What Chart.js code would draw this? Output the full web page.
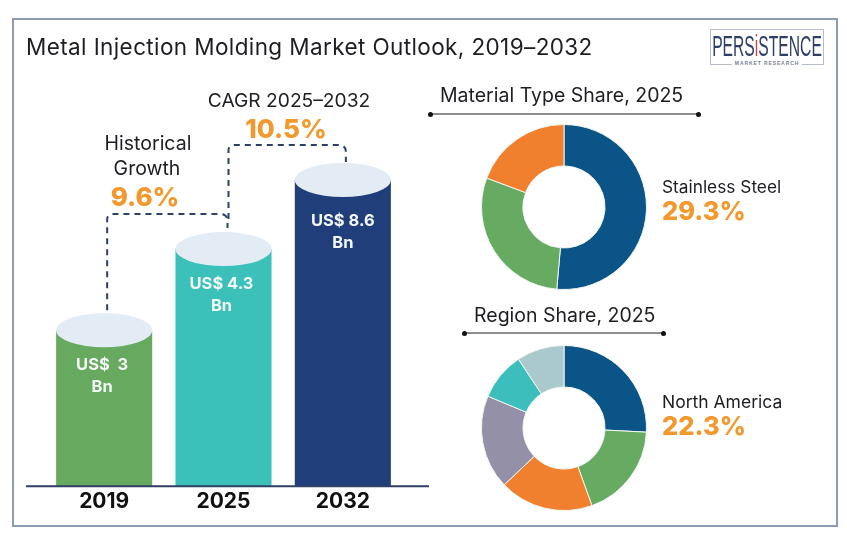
<!DOCTYPE html>
<html>
<head>
<meta charset="utf-8">
<script src="https://cdn.jsdelivr.net/npm/chart.js@4/dist/chart.umd.min.js"></script>
<style>
  html, body { margin: 0; padding: 0; background: #fff; }
  body { position: relative; width: 847px; height: 535px; overflow: hidden; font-family: Inter, sans-serif; color: #1d1d22; }
  canvas { position: absolute; }
  #frame { position: absolute; left: 12px; top: 18px; width: 822px; height: 505px; border: 2px solid #8b9bb0; }
  .t { position: absolute; transform: translateY(-50%); white-space: nowrap; line-height: 1; }
  .c { transform: translate(-50%, -50%); text-align: center; }
  .big { font-weight: 800; color: #f2992e; font-size: 26px; }
  .rule { position: absolute; height: 2px; background: #8d8d8d; }
  .rule::before, .rule::after { content: ""; position: absolute; top: -1.5px; width: 5px; height: 5px; border-radius: 50%; background: #111; }
  .rule::before { left: -2px; }
  .rule::after { right: -2px; }
  #logo { position: absolute; left: 710px; top: 29px; width: 112px; height: 34px; border: 1px solid #b4bccb; }
  #logoName { position: absolute; left: 50%; top: 16px; transform: translate(-50%, -50%) scaleX(.54); font: 29px "Liberation Sans", sans-serif; color: #2e4066; line-height: 1; white-space: nowrap; }
  #logoName i { font-style: normal; color: #d4433f; }
  #logoSub { position: absolute; left: 50%; top: 30px; transform: translateX(-50%); background: #fff; padding: 0 3px; font: 700 5px "Liberation Sans", sans-serif; letter-spacing: .9px; color: #7b7f90; white-space: nowrap; line-height: 7px; }
</style>
</head>
<body>
<div id="frame"></div>
<canvas id="barChart" width="847" height="535" style="left:0;top:0"></canvas>
<canvas id="materialChart" width="170" height="170" style="left:479px;top:122px"></canvas>
<canvas id="regionChart" width="170" height="170" style="left:479px;top:343px"></canvas>

<div class="t" style="left:26px;top:47px;font-size:22.5px;letter-spacing:.39px">Metal Injection Molding Market Outlook, 2019–2032</div>
<div class="t c" style="left:289px;top:101px;font-size:19.2px">CAGR 2025–2032</div>
<div class="t c big" style="left:286px;top:129px">10.5%</div>
<div class="t c" style="left:148px;top:144px;font-size:19.5px">Historical</div>
<div class="t c" style="left:147px;top:169px;font-size:19.5px">Growth</div>
<div class="t c big" style="left:145px;top:197px">9.6%</div>

<div class="t" style="left:440px;top:96px;font-size:19.5px">Material Type Share, 2025</div>
<div class="rule" style="left:430px;top:113px;width:269px"></div>
<div class="t" style="left:662px;top:187px;font-size:17.3px">Stainless Steel</div>
<div class="t big" style="left:662px;top:211px;font-size:25.5px">29.3%</div>

<div class="t" style="left:474px;top:316px;font-size:19.5px">Region Share, 2025</div>
<div class="rule" style="left:464px;top:332px;width:200px"></div>
<div class="t" style="left:662px;top:402px;font-size:17.5px">North America</div>
<div class="t big" style="left:662px;top:426px;font-size:25.5px">22.3%</div>

<div id="logo">
  <div id="logoName">PERS<i>i</i>STENCE</div>
  <div id="logoSub">MARKET RESEARCH</div>
</div>

<script>
let years = ['2019', '2025', '2032'];
let marketValues = ['3', '4.3', '8.6']; // printed on the bars, US$ Bn
// the picture does not draw its bars to scale, so these are the heights as drawn
let drawnHeights = [1.56, 2.37, 3.06];
let barColors = ['#68a960', '#3cc0ba', '#203f7a'];

let materialShare = [51.4, 29.3, 19.3];
let materialColors = ['#0b5488', '#67ab63', '#f07f2e'];

let regionShare = [25.8, 18.7, 18.4, 18.4, 9.4, 9.3];
let regionColors = ['#0b5488', '#67ab63', '#f07f2e', '#9390a8', '#3cbfbc', '#a9c9cc'];

// baseline, cylinder lids, text on the bars and the dashed growth connectors
let cylinderPlugin = {
  id: 'cylinder',
  afterDatasetsDraw(chart) {
    let ctx = chart.ctx;
    let bars = chart.getDatasetMeta(0).data;
    let bottom = chart.scales.y.bottom;

    ctx.save();
    ctx.strokeStyle = '#2e4066';
    ctx.lineWidth = 2;
    ctx.beginPath();
    ctx.moveTo(26, bottom);
    ctx.lineTo(429, bottom);
    ctx.stroke();

    let labelDrop = [35, 35, 41];
    ctx.textAlign = 'center';
    ctx.textBaseline = 'middle';
    bars.forEach((bar, i) => {
      ctx.fillStyle = '#e3ebf4';
      ctx.beginPath();
      ctx.ellipse(bar.x, bar.y, bar.width / 2, 17, 0, 0, Math.PI * 2);
      ctx.fill();
      ctx.fillStyle = '#f4f8f6';
      ctx.font = '700 16.5px Inter';
      let gap = marketValues[i].length === 1 ? '  ' : ' ';
      ctx.fillText('US$' + gap + marketValues[i], bar.x - (i === 2 ? 0 : 2), bar.y + labelDrop[i]);
      ctx.fillText('Bn', bar.x - (i === 2 ? 0 : 2), bar.y + labelDrop[i] + 22);
    });

    ctx.strokeStyle = '#2e4066';
    ctx.setLineDash([6, 5]);
    ctx.lineWidth = 2;
    let a = bars[0], b = bars[1], c = bars[2];
    ctx.beginPath();
    ctx.moveTo(a.x + 3, a.y - 20);
    ctx.lineTo(a.x + 3, b.y - 30);
    ctx.arcTo(a.x + 3, b.y - 35, a.x + 8, b.y - 35, 5);
    ctx.lineTo(b.x - 3, b.y - 35);
    ctx.arcTo(b.x + 4, b.y - 35, b.x + 4, b.y - 28, 6);
    ctx.lineTo(b.x + 4, b.y - 21);
    ctx.stroke();
    ctx.beginPath();
    ctx.moveTo(b.x + 5, b.y - 30);
    ctx.lineTo(b.x + 5, c.y - 30);
    ctx.arcTo(b.x + 5, c.y - 35, b.x + 10, c.y - 35, 5);
    ctx.lineTo(c.x - 4, c.y - 35);
    ctx.arcTo(c.x + 3, c.y - 35, c.x + 3, c.y - 28, 6);
    ctx.lineTo(c.x + 3, c.y - 18);
    ctx.stroke();
    ctx.restore();
  }
};

new Chart(document.getElementById('barChart').getContext('2d'), {
  type: 'bar',
  data: {
    labels: years,
    datasets: [{
      data: drawnHeights,
      backgroundColor: barColors,
      barPercentage: 0.805,
      categoryPercentage: 1
    }]
  },
  options: {
    responsive: false,
    animation: false,
    layout: { padding: { left: 44.5, right: 444.5, top: 100, bottom: 18.5 } },
    plugins: { legend: { display: false }, tooltip: { enabled: false } },
    scales: {
      x: {
        grid: { display: false, drawTicks: false },
        border: { display: false },
        ticks: { color: '#111', padding: 2.5, font: { family: 'Inter', size: 21, weight: '700' } }
      },
      y: { display: false, min: 0, max: 3.86 }
    }
  },
  plugins: [cylinderPlugin]
});

function makeDonut(id, values, colors) {
  new Chart(document.getElementById(id).getContext('2d'), {
    type: 'doughnut',
    data: {
      datasets: [{
        data: values,
        backgroundColor: colors,
        borderColor: '#f1f6f0',
        borderWidth: 1,
        radius: 82.5,
        cutout: 42
      }]
    },
    options: {
      responsive: false,
      animation: false,
      plugins: { legend: { display: false }, tooltip: { enabled: false } }
    }
  });
}

makeDonut('materialChart', materialShare, materialColors);
makeDonut('regionChart', regionShare, regionColors);
</script>
</body>
</html>
